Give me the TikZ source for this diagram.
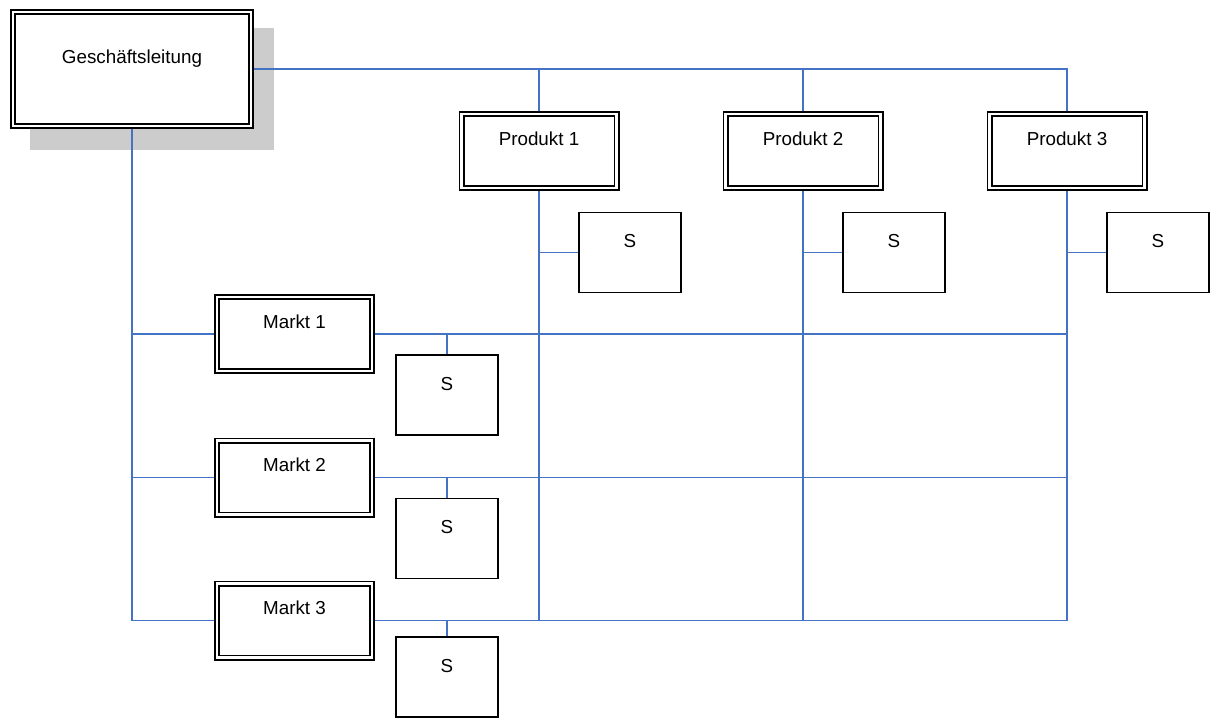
\documentclass[tikz,border=0pt]{standalone}
\usepackage{fontspec}
\setmainfont{Liberation Sans}
\usetikzlibrary{backgrounds}
\definecolor{linkblue}{RGB}{68,114,196}
\begin{document}
\begin{tikzpicture}[x=0.5pt,y=-0.5pt,
  unit/.style={draw,double,double distance=1.3pt,line width=0.85pt,fill=white,inner sep=0pt,
    minimum width=77.5pt,text height=15.5pt,text depth=21.5pt,font=\fontsize{9.4}{11}\selectfont},
  sbox/.style={draw,line width=0.75pt,fill=white,inner sep=0pt,
    minimum width=51pt,text height=17.5pt,text depth=22.5pt,font=\fontsize{9.4}{11}\selectfont},
  wire/.style={draw=linkblue,line width=0.75pt}]
\useasboundingbox (0,0) rectangle (1210,718);
\node[unit,minimum width=119pt,text height=25.5pt,text depth=31.5pt] (gl) at (132,69) {Geschäftsleitung};
\foreach \i/\x in {1/539,2/803,3/1067}\node[unit] (p\i) at (\x,151) {Produkt \i};
\foreach \i/\x in {1/630,2/894,3/1158}\node[sbox] (ps\i) at (\x,252.5) {S};
\foreach \i/\y in {1/334,2/477.5,3/620.5}\node[unit] (m\i) at (294.5,\y) {Markt \i};
\foreach \i/\y in {1/395,2/538.5,3/677}\node[sbox] (ms\i) at (447,\y) {S};
\begin{scope}[on background layer]
\fill[black!20] ([shift={(18,17)}]gl.north west) rectangle ([shift={(22,23)}]gl.south east);
\draw[wire] (gl.east) -| (p3.north);
\foreach \i in {1,2}\draw[wire] (gl.east -| p\i.north) -- (p\i.north);
\draw[wire] (gl.south) -- (gl.south |- m3.west);
\foreach \i in {1,2,3}{
\draw[wire] (gl.south |- m\i.west) -- (m\i.west);
\draw[wire] (m\i.east) -- (m\i.east -| p3.south);
\draw[wire] (p\i.south) -- (p\i.south |- m3.east);
\draw[wire] (ms\i.north |- m\i.east) -- (ms\i.north);
\draw[wire] (p\i.south |- ps\i.west) -- (ps\i.west);
}
\end{scope}
\end{tikzpicture}
\end{document}
